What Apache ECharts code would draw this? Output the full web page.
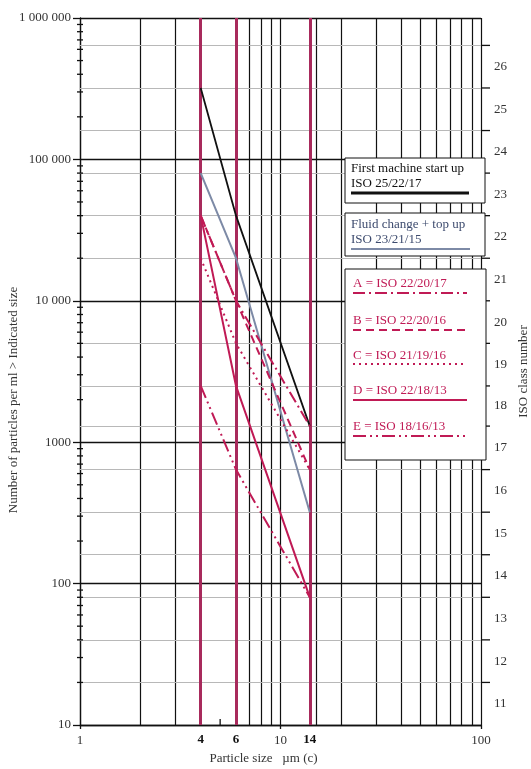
<!DOCTYPE html>
<html>
<head>
<meta charset="utf-8">
<script src="https://cdn.jsdelivr.net/npm/echarts@6/dist/echarts.min.js"></script>
<style>
  html, body { margin: 0; padding: 0; background: #fff; }
  #chart { width: 531px; height: 769px; }
</style>
</head>
<body>
<div id="chart"></div>
<script>
// Particle sizes (µm(c)) at which an ISO 4406 code is read
const particleSizes = [4, 6, 14];

// Particles per ml larger than each size, one list per cleanliness code
const startUpCounts     = [320000, 40000, 1300]; // ISO 25/22/17
const fluidChangeCounts = [80000, 20000, 320];   // ISO 23/21/15
const codeACounts       = [40000, 10000, 1300];  // ISO 22/20/17
const codeBCounts       = [40000, 10000, 640];   // ISO 22/20/16
const codeCCounts       = [20000, 5000, 640];    // ISO 21/19/16
const codeDCounts       = [40000, 2500, 80];     // ISO 22/18/13
const codeECounts       = [2500, 640, 80];       // ISO 18/16/13

// Upper count of ISO classes 11 .. 26
const isoBoundaries = [20, 40, 80, 160, 320, 640, 1300, 2500, 5000, 10000,
                       20000, 40000, 80000, 160000, 320000, 640000];
const isoClasses = [11, 12, 13, 14, 15, 16, 17, 18, 19, 20, 21, 22, 23, 24, 25, 26];

// Count axis labels, 10 .. 1 000 000
const countTickLabels = ['10', '100', '1000', '10 000', '100 000', '1 000 000'];
// Thin rulings of the size axis
const sizeRulings = [2, 3, 7, 8, 9, 15, 20, 30, 40, 50, 60, 70, 80, 90];
// Decades that carry the 2..9 minor ticks on the count axis
const countDecades = [10, 100, 1000, 10000, 100000];
const minorSteps = [2, 3, 4, 5, 6, 7, 8, 9];

const SERIF = '"Liberation Serif", "Times New Roman", serif';
const INK = '#111';
const CRIMSON = '#c01a55';
const RULE_CRIMSON = '#a82a5c';
const SLATE = '#7d8aa6';

const styles = {
  startUp:     { color: INK,     width: 1.8, dash: [] },
  fluidChange: { color: SLATE,   width: 2,   dash: [] },
  A:           { color: CRIMSON, width: 2,   dash: [12, 4, 2, 4] },
  B:           { color: CRIMSON, width: 2,   dash: [8, 5] },
  C:           { color: CRIMSON, width: 2,   dash: [2, 4] },
  D:           { color: CRIMSON, width: 2,   dash: [] },
  E:           { color: CRIMSON, width: 2,   dash: [13, 4, 2, 4, 2, 4] }
};

function codeLine(name, counts, st) {
  return {
    type: 'line',
    name: name,
    data: particleSizes.map((s, i) => [s, counts[i]]),
    symbol: 'none',
    silent: true,
    z: 10,
    lineStyle: { color: st.color, width: st.width, type: st.dash.length ? st.dash : 'solid' }
  };
}

// Small tick marks and ISO class labels, placed through the axes
const markData = [];
countDecades.forEach(d => minorSteps.forEach(m => markData.push([1, d * m, 0, 0])));
markData.push([5, 10, 1, 0]);
isoBoundaries.forEach(b => markData.push([100, b, 2, 0]));
isoClasses.forEach((c, i) => {
  const lower = i === 0 ? 10 : isoBoundaries[i - 1];
  markData.push([100, Math.sqrt(lower * isoBoundaries[i]), 3, i]);
});

function drawMarks(params, api) {
  const kind = api.value(2);
  const p = api.coord([api.value(0), api.value(1)]);
  const stroke = { stroke: INK, lineWidth: 1.3 };
  if (kind === 0) {
    return { type: 'line', shape: { x1: p[0] - 3, y1: p[1], x2: p[0] + 3, y2: p[1] }, style: stroke };
  }
  if (kind === 1) {
    return { type: 'line', shape: { x1: p[0], y1: p[1], x2: p[0], y2: p[1] - 6 }, style: stroke };
  }
  if (kind === 2) {
    return { type: 'line', shape: { x1: p[0], y1: p[1], x2: p[0] + 9, y2: p[1] }, style: stroke };
  }
  return {
    type: 'text', x: p[0] + 13, y: p[1],
    style: { text: String(isoClasses[api.value(3)]), fill: '#333', font: '13px ' + SERIF,
             align: 'left', verticalAlign: 'middle' }
  };
}

const rulingLines = [];
sizeRulings.forEach(v => rulingLines.push({
  xAxis: v, label: { show: false }, lineStyle: { color: INK, width: 1.2, type: 'solid' }
}));
isoBoundaries.forEach(v => {
  if (Math.log10(v) % 1 !== 0) {
    rulingLines.push({ yAxis: v, label: { show: false }, lineStyle: { color: '#b8b8b8', width: 1, type: 'solid' } });
  }
});
particleSizes.forEach(v => rulingLines.push({
  xAxis: v,
  lineStyle: { color: RULE_CRIMSON, width: 3, type: 'solid' },
  label: { show: true, position: 'start', distance: 8, formatter: String(v),
           color: INK, fontWeight: 'bold', fontSize: 13, fontFamily: SERIF }
}));

// Legend panels
const TOP = 100;
const LEGEND_FONT = '13px ' + SERIF;
function legendLine(x1, x2, y, st, extra) {
  return { type: 'line', z: TOP + 2, shape: { x1: x1, y1: y, x2: x2, y2: y },
           style: { stroke: st.color, lineWidth: st.width + (extra || 0), lineDash: st.dash.length ? st.dash : null } };
}
function legendText(x, y, text, color) {
  return { type: 'text', z: TOP + 2, x: x, y: y,
           style: { text: text, fill: color, font: LEGEND_FONT, verticalAlign: 'middle' } };
}
const panelRect = (x, y, w, h) => ({ type: 'rect', z: TOP, shape: { x: x, y: y, width: w, height: h },
  style: { fill: '#fff', stroke: INK, lineWidth: 1 } });

const codeEntries = [
  ['A = ISO 22/20/17', styles.A, 284, 293],
  ['B = ISO 22/20/16', styles.B, 321, 330],
  ['C = ISO 21/19/16', styles.C, 356, 364],
  ['D = ISO 22/18/13', styles.D, 391, 400],
  ['E = ISO 18/16/13', styles.E, 427, 436]
];

const graphicElements = [
  panelRect(345, 158, 140, 45),
  legendText(351, 169, 'First machine start up', INK),
  legendText(351, 184, 'ISO 25/22/17', INK),
  legendLine(351, 469, 193, styles.startUp, 1),
  panelRect(345, 213, 140, 43),
  legendText(351, 225, 'Fluid change + top up', '#3d4b6e'),
  legendText(351, 240, 'ISO 23/21/15', '#3d4b6e'),
  legendLine(351, 470, 249, styles.fluidChange),
  panelRect(345, 269, 141, 191)
];
codeEntries.forEach(e => {
  graphicElements.push(legendText(353, e[2], e[0], CRIMSON));
  graphicElements.push(legendLine(353, 467, e[3], e[1]));
});
// Count axis title, reading upward
graphicElements.push({
  type: 'text', z: TOP, x: 14, y: 400, rotation: Math.PI / 2,
  style: { text: 'Number of particles per ml > Indicated size', fill: '#333',
           font: '13px ' + SERIF, align: 'center', verticalAlign: 'middle' }
});

const chart = echarts.init(document.getElementById('chart'));
chart.setOption({
  animation: false,
  backgroundColor: '#fff',
  grid: { left: 80, right: 50, top: 18, bottom: 44, containLabel: false, outerBoundsMode: 'none' },
  xAxis: {
    type: 'log', logBase: 10, min: 1, max: 100,
    axisLine: { show: true, lineStyle: { color: INK, width: 1.3 } },
    axisTick: { show: true, length: 4, lineStyle: { color: INK, width: 1.3 } },
    axisLabel: { color: '#333', fontSize: 13, fontFamily: SERIF, margin: 9 },
    splitLine: { show: true, lineStyle: { color: INK, width: 1.2 } },
    minorTick: { show: false },
    name: 'Particle size\u00a0\u00a0 µm (c)',
    nameLocation: 'middle', nameGap: 25,
    nameTextStyle: { color: '#333', fontSize: 13, fontFamily: SERIF, padding: [0, 34, 0, 0] }
  },
  yAxis: [{
    type: 'log', logBase: 10, min: 10, max: 1000000, position: 'left',
    axisLine: { show: true, lineStyle: { color: INK, width: 1.3 } },
    axisTick: { show: true, length: 7, lineStyle: { color: INK, width: 1.3 } },
    axisLabel: {
      color: '#333', fontSize: 13, fontFamily: SERIF, margin: 9,
      formatter: v => countTickLabels[Math.round(Math.log10(v)) - 1]
    },
    splitLine: { show: true, lineStyle: { color: INK, width: 1.3 } }
  }, {
    type: 'log', logBase: 10, min: 10, max: 1000000, position: 'right',
    axisLine: { show: false }, axisTick: { show: false }, axisLabel: { show: false },
    splitLine: { show: false },
    name: 'ISO class number',
    nameLocation: 'middle', nameGap: 36, nameRotate: 90,
    nameTextStyle: { color: '#333', fontSize: 13, fontFamily: SERIF }
  }],
  graphic: { elements: graphicElements },
  series: [
    {
      type: 'line', name: 'rulings', data: [], silent: true, z: 1,
      markLine: { silent: true, symbol: 'none', z: 1, animation: false, data: rulingLines }
    },
    {
      type: 'custom', name: 'marks', renderItem: drawMarks, data: markData,
      dimensions: ['x', 'y', 'kind', 'idx'], encode: { x: 0, y: 1 },
      clip: false, silent: true, z: 5
    },
    codeLine('ISO 25/22/17', startUpCounts, styles.startUp),
    codeLine('ISO 23/21/15', fluidChangeCounts, styles.fluidChange),
    codeLine('A = ISO 22/20/17', codeACounts, styles.A),
    codeLine('B = ISO 22/20/16', codeBCounts, styles.B),
    codeLine('C = ISO 21/19/16', codeCCounts, styles.C),
    codeLine('D = ISO 22/18/13', codeDCounts, styles.D),
    codeLine('E = ISO 18/16/13', codeECounts, styles.E)
  ]
});
</script>
</body>
</html>
